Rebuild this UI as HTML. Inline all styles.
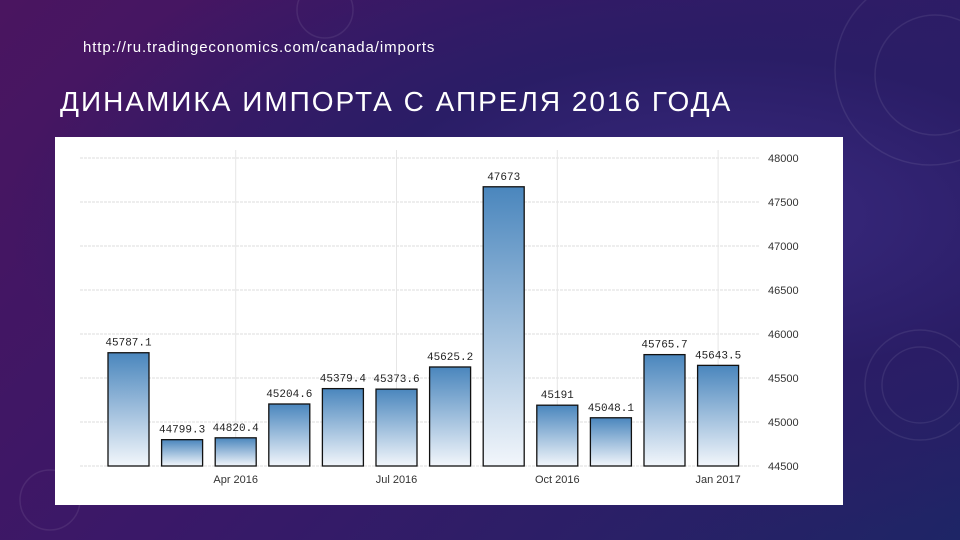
<!DOCTYPE html>
<html><head><meta charset="utf-8"><style>
body{margin:0;width:960px;height:540px;overflow:hidden;font-family:"Liberation Sans","Noto Sans CJK SC",sans-serif;}
#bg{position:absolute;left:0;top:0;width:960px;height:540px;background:radial-gradient(ellipse at 75% 40%,#3a2a80 0%,#2a1d66 35%,rgba(40,20,80,0) 70%),linear-gradient(135deg,#4a1560 0%,#3a1868 45%,#1e2566 100%);}
#url{position:absolute;left:83px;top:39px;color:#fff;font-size:15px;letter-spacing:0.9px;}
#title{position:absolute;left:60px;top:86px;color:#fff;font-size:28px;letter-spacing:2px;}
#panel{position:absolute;left:55px;top:137px;width:788px;height:368px;background:#fff;}
</style></head><body>
<div id="bg">
<svg width="960" height="540" style="position:absolute;left:0;top:0">
<g fill="none" stroke="rgba(255,255,255,0.08)" stroke-width="1.5">
<circle cx="325" cy="10" r="28"/><circle cx="930" cy="70" r="95"/><circle cx="935" cy="75" r="60"/><circle cx="920" cy="385" r="55"/><circle cx="920" cy="385" r="38"/><circle cx="50" cy="500" r="30"/>
</g></svg>
</div>
<div id="url">http://ru.tradingeconomics.com/canada/imports</div>
<div id="title">ДИНАМИКА ИМПОРТА С АПРЕЛЯ 2016 ГОДА</div>
<div id="panel"></div>
<svg id="chart" width="960" height="540" style="position:absolute;left:0;top:0">
<defs><linearGradient id="g" x1="0" y1="0" x2="0" y2="1"><stop offset="0" stop-color="#4a86bd"/><stop offset="1" stop-color="#f2f6fb"/></linearGradient></defs>
<g id="grid"></g><g id="bars"></g><g id="labels"></g>
</svg>
<script>
const categories=["Feb 2016","Mar 2016","Apr 2016","May 2016","Jun 2016","Jul 2016","Aug 2016","Sep 2016","Oct 2016","Nov 2016","Dec 2016","Jan 2017"];
const values=[45787.1,44799.3,44820.4,45204.6,45379.4,45373.6,45625.2,47673,45191,45048.1,45765.7,45643.5];
const valueLabels=["45787.1","44799.3","44820.4","45204.6","45379.4","45373.6","45625.2","47673","45191","45048.1","45765.7","45643.5"];
const yTicks=[44500,45000,45500,46000,46500,47000,47500,48000];
const xTickLabels=["Apr 2016","Jul 2016","Oct 2016","Jan 2017"];
const xTickIdx=[2,5,8,11];
const NS="http://www.w3.org/2000/svg";
const yMin=44500,yMax=48000,y0=466,y1=158;
const y=v=>y0-(v-yMin)*(y0-y1)/(yMax-yMin);
const step=53.6,bw=41,x0=108;
const x=i=>x0+i*step;
function mk(t,a,p){const e=document.createElementNS(NS,t);for(const k in a)e.setAttribute(k,a[k]);p.appendChild(e);return e;}
const grid=document.getElementById('grid'),bars=document.getElementById('bars'),labels=document.getElementById('labels');
yTicks.forEach(v=>{
 const l=mk('line',{x1:80,x2:760,y1:y(v),y2:y(v),stroke:'#ddd','stroke-width':1,'stroke-dasharray':'3 1'},grid);
 
 
 const t=mk('text',{x:768,y:y(v)+4,'font-size':11,fill:'#333','font-family':'Liberation Sans, sans-serif'},labels);
 t.textContent=v;
 
 
});
xTickIdx.forEach((idx,k)=>{
 const cx=x(idx)+bw/2;
 const l=mk('line',{x1:cx,x2:cx,y1:150,y2:466,stroke:'#e6e6e6','stroke-width':1},grid);
 
 
 const t=mk('text',{x:cx,y:483,'font-size':11,fill:'#333','text-anchor':'middle','font-family':'Liberation Sans, sans-serif'},labels);
 t.textContent=xTickLabels[k];
 
 
});
values.forEach((v,i)=>{
 const r=mk('rect',{x:x(i),y:y(v),width:bw,height:y0-y(v),fill:'url(#g)',stroke:'#111','stroke-width':1.3},bars);
 
 
 const t=mk('text',{x:x(i)+bw/2,y:y(v)-7,'font-size':11,fill:'#222','text-anchor':'middle','font-family':'Liberation Mono, monospace'},labels);
 t.textContent=valueLabels[i];
 
 
});
</script>
</body></html>
